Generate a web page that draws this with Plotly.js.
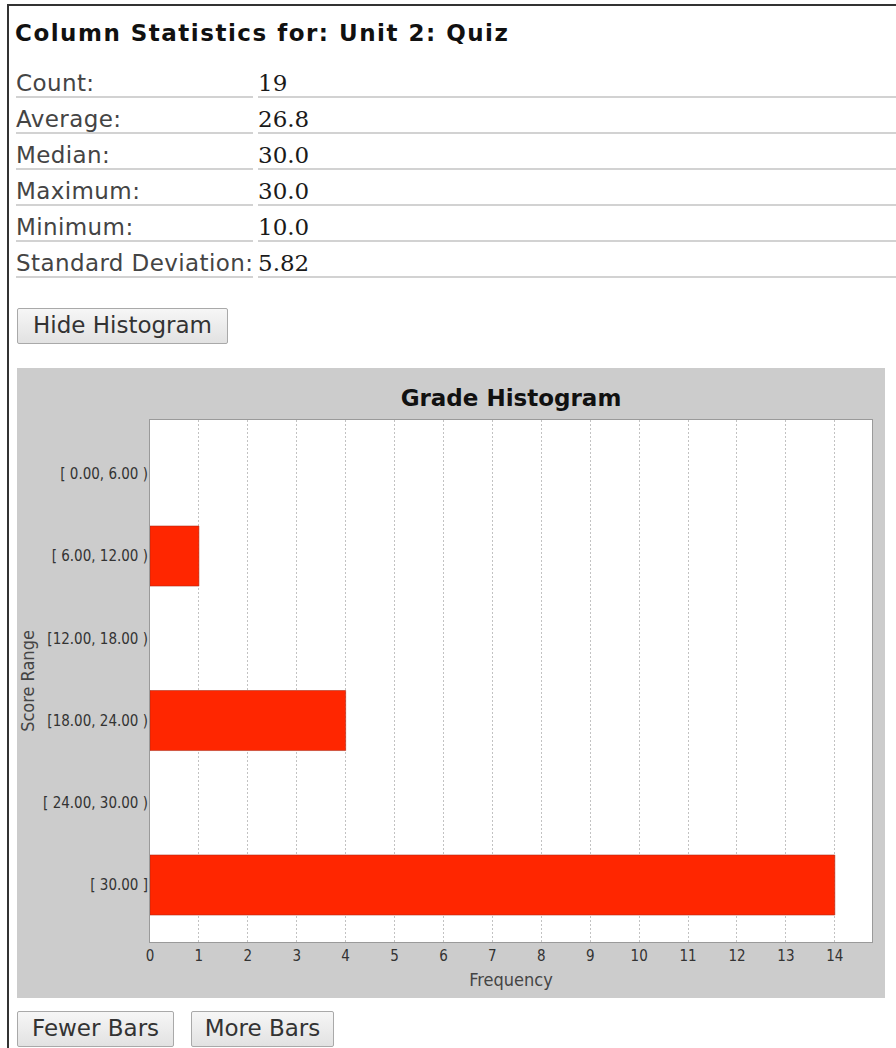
<!DOCTYPE html>
<html>
<head>
<meta charset="utf-8">
<script src="https://cdn.plot.ly/plotly-3.0.1.min.js"></script>
<style>
  html, body { margin: 0; padding: 0; background: #ffffff; }
  body { width: 896px; height: 1048px; position: relative; overflow: hidden; font-family: "DejaVu Sans", sans-serif; }
  .frame { position: absolute; left: 7px; top: 4px; width: 895px; height: 1050px; border-left: 2px solid #333; border-top: 2px solid #333; }
  .title { position: absolute; left: 15px; top: 22px; font: bold 23px/23px "DejaVu Sans", sans-serif; letter-spacing: 1.5px; color: #111; white-space: nowrap; }
  .row { position: absolute; height: 34px; border-bottom: 2px solid #d2d2d2; white-space: nowrap; }
  .lab { left: 16px; width: 237px; font: 23px/23px "DejaVu Sans", sans-serif; letter-spacing: 0.4px; color: #444; }
  .val { left: 258px; width: 640px; font: 23px/23px "DejaVu Serif", serif; color: #1a1a1a; }
  .row span { position: relative; top: 10px; }
  .btn { position: absolute; box-sizing: border-box; border: 1px solid #a9a9a9; border-radius: 2px;
         background: linear-gradient(#f6f6f6, #e2e2e2); font: 23px/33px "DejaVu Sans", sans-serif; color: #333; text-align: center; white-space: nowrap; }
  #chart { position: absolute; left: 17px; top: 368px; width: 868px; height: 630px; }
</style>
</head>
<body>
<div class="frame"></div>
<div class="title">Column Statistics for: Unit 2: Quiz</div>
<div id="stats"></div>
<div class="btn" style="left:17px; top:308px; width:211px; height:36px;">Hide Histogram</div>
<div id="chart"></div>
<div class="btn" style="left:17px; top:1011px; width:157px; height:36px;">Fewer Bars</div>
<div class="btn" style="left:191px; top:1011px; width:143px; height:36px;">More Bars</div>
<script>
// ---- data ----
const statLabels = ["Count:", "Average:", "Median:", "Maximum:", "Minimum:", "Standard Deviation:"];
const statValues = ["19", "26.8", "30.0", "30.0", "10.0", "5.82"];
const categories = ["[ 0.00, 6.00 )", "[ 6.00, 12.00 )", "[12.00, 18.00 )", "[18.00, 24.00 )", "[ 24.00, 30.00 )", "[ 30.00 ]"];
const frequencies = [0, 1, 0, 4, 0, 14];
const xTickValues = [0, 1, 2, 3, 4, 5, 6, 7, 8, 9, 10, 11, 12, 13, 14];
const chartTitle = "Grade Histogram";
const xTitle = "Frequency";
const yTitle = "Score Range";

// ---- stats table ----
const stats = document.getElementById("stats");
statLabels.forEach((lab, i) => {
  const top = 62 + 36 * i;
  const a = document.createElement("div");
  a.className = "row lab"; a.style.top = top + "px";
  a.innerHTML = "<span></span>"; a.firstChild.textContent = lab;
  const b = document.createElement("div");
  b.className = "row val"; b.style.top = top + "px";
  b.innerHTML = "<span></span>"; b.firstChild.textContent = statValues[i];
  stats.appendChild(a); stats.appendChild(b);
});

// ---- chart ----
const condensed = "DejaVu Sans Condensed, Liberation Sans Narrow, DejaVu Sans, sans-serif";
const trace = {
  type: "bar",
  orientation: "h",
  y: categories,
  x: frequencies,
  width: 0.73,
  marker: { color: "#ff2600", line: { color: "rgba(170,40,20,0.55)", width: frequencies.map(v => v > 0 ? 1 : 0) } },
  hoverinfo: "skip"
};
const layout = {
  width: 868, height: 630,
  margin: { l: 133, r: 13, t: 52, b: 56 },
  paper_bgcolor: "#cccccc",
  plot_bgcolor: "#ffffff",
  showlegend: false,
  title: { text: chartTitle, x: 0.5, xanchor: "center", xref: "paper", y: 0.952, yanchor: "middle", yref: "container",
           font: { family: "DejaVu Sans, sans-serif", size: 23, color: "#111", weight: "bold" } },
  xaxis: {
    range: [0, 14.76],
    tickmode: "array", tickvals: xTickValues,
    showgrid: true, gridcolor: "#c2c2c2", griddash: "2px,2px", gridwidth: 1,
    zeroline: false,
    showline: true, mirror: true, linecolor: "#9a9a9a", linewidth: 1,
    ticks: "",
    tickfont: { family: condensed, size: 15, color: "#333" },
    title: { text: xTitle, font: { family: condensed, size: 18, color: "#444" }, standoff: 9 },
    fixedrange: true, automargin: false
  },
  yaxis: {
    type: "category", categoryorder: "array", categoryarray: categories,
    range: [5.693, -0.654],
    showgrid: false, zeroline: false,
    showline: true, mirror: true, linecolor: "#9a9a9a", linewidth: 1,
    ticks: "", ticklabelstandoff: -2,
    tickfont: { family: condensed, size: 15, color: "#333" },
    title: { text: yTitle, font: { family: condensed, size: 18, color: "#444" }, standoff: 3 },
    fixedrange: true, automargin: false
  }
};
Plotly.newPlot("chart", [trace], layout, { displayModeBar: false, staticPlot: true });
</script>
</body>
</html>
